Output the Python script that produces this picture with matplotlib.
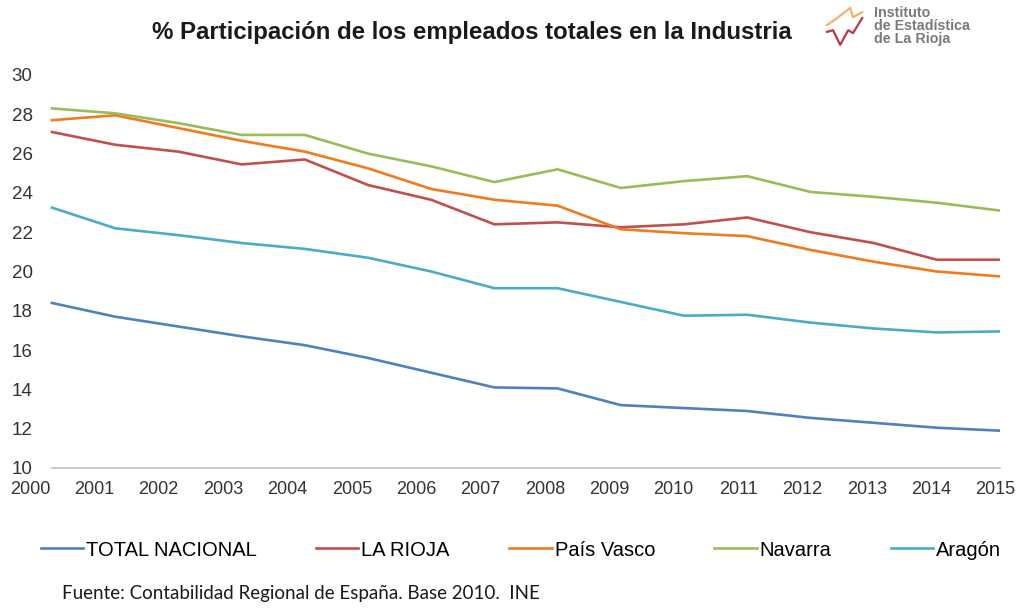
import numpy as np
import matplotlib
matplotlib.use('Agg')
import matplotlib.pyplot as plt

years = [str(y) for y in range(2000, 2016)]

total_nacional = [18.4, 17.7, 17.2, 16.7, 16.25, 15.6, 14.85, 14.1, 14.05, 13.2,
                  13.05, 12.9, 12.55, 12.3, 12.05, 11.9]
la_rioja = [27.1, 26.45, 26.1, 25.45, 25.7, 24.4, 23.65, 22.4, 22.5, 22.25,
            22.4, 22.75, 22.0, 21.45, 20.6, 20.6]
pais_vasco = [27.7, 27.95, 27.3, 26.65, 26.1, 25.25, 24.2, 23.65, 23.35, 22.15,
              21.95, 21.8, 21.1, 20.5, 20.0, 19.75]
navarra = [28.3, 28.05, 27.55, 26.95, 26.95, 26.0, 25.35, 24.55, 25.2, 24.25,
           24.6, 24.85, 24.05, 23.8, 23.5, 23.1]
aragon = [23.25, 22.2, 21.85, 21.45, 21.15, 20.7, 20.0, 19.15, 19.15, 18.45,
          17.75, 17.8, 17.4, 17.1, 16.9, 16.95]

series = [
    ('TOTAL NACIONAL', total_nacional, '#4F81BD'),
    ('LA RIOJA', la_rioja, '#C0504D'),
    ('País Vasco', pais_vasco, '#F07B1E'),
    ('Navarra', navarra, '#9BBB59'),
    ('Aragón', aragon, '#4BACC6'),
]

plt.rcParams['font.family'] = ['Liberation Sans', 'DejaVu Sans']

fig = plt.figure(figsize=(10.16, 6.11), dpi=100)
# axes start a little left of the first point so the "2000" label fits
x_left = -0.35
step_px = (1000 - 52) / 15
left_px = 52 + x_left * step_px
ax = fig.add_axes([left_px / 1016, 1 - 468 / 611, (1000 - left_px) / 1016, (468 - 75) / 611])

x = np.arange(len(years))
for name, vals, color in series:
    ax.plot(x, vals, color=color, linewidth=1.9, label=name)

ax.set_yticks(range(10, 31, 2))
# year labels are spread a bit wider than the data points in the original
ax.set_xticks(np.linspace(x_left, 14.93, 16))
ax.set_xticklabels(years)
ax.set_xlim(x_left, 15)
ax.set_ylim(10, 30)
ax.tick_params(axis='both', length=0, colors='#333333')
ax.tick_params(axis='x', pad=9, labelsize=13)
ax.tick_params(axis='y', pad=14 - 0.35 * step_px * 72 / 100, labelsize=13.5)
for side in ['top', 'right', 'left']:
    ax.spines[side].set_visible(False)
ax.spines['bottom'].set_color('#BFBFBF')
ax.spines['bottom'].set_linewidth(1.2)
ax.spines['bottom'].set_bounds(0, 15)

fig.text(472 / 1016, 1 - 33 / 611, '% Participación de los empleados totales en la Industria',
         ha='center', va='center', fontsize=17.3, fontweight='bold', color='#1a1a1a')

fig.legend(loc='center', bbox_to_anchor=(0.5 + 13 / 1016, 1 - 550 / 611), ncol=5, frameon=False,
           fontsize=14.5, handlelength=2.1, handletextpad=0.15, columnspacing=2.95)

fig.text(62 / 1016, 1 - 593 / 611, 'Fuente: Contabilidad Regional de España. Base 2010.  INE',
         ha='left', va='center', fontsize=13.5, family=['Lato', 'DejaVu Sans'], color='#1a1a1a')

# logo
logo_ox = [0.05, 0.33, 0.63, 0.7, 0.93]
logo_oy = [0.52, 0.71, 0.93, 0.71, 0.83]
logo_rx = [0.05, 0.2, 0.38, 0.58, 0.7, 0.93]
logo_ry = [0.36, 0.4, 0.05, 0.4, 0.33, 0.69]
lax = fig.add_axes([825 / 1016, 1 - 47 / 611, 40 / 1016, 42 / 611])
lax.plot(logo_ox, logo_oy, color='#F3B26B', linewidth=1.6)
lax.plot(logo_rx, logo_ry, color='#B8394A', linewidth=1.6)
lax.set_xlim(0, 1)
lax.set_ylim(0, 1)
lax.axis('off')
for i, line in enumerate(['Instituto', 'de Estadística', 'de La Rioja']):
    fig.text(874 / 1016, 1 - (13 + i * 13) / 611, line, ha='left', va='center',
             fontsize=10.3, fontweight='bold', color='#7a7a7a')

fig.savefig('out.png', dpi=100)
